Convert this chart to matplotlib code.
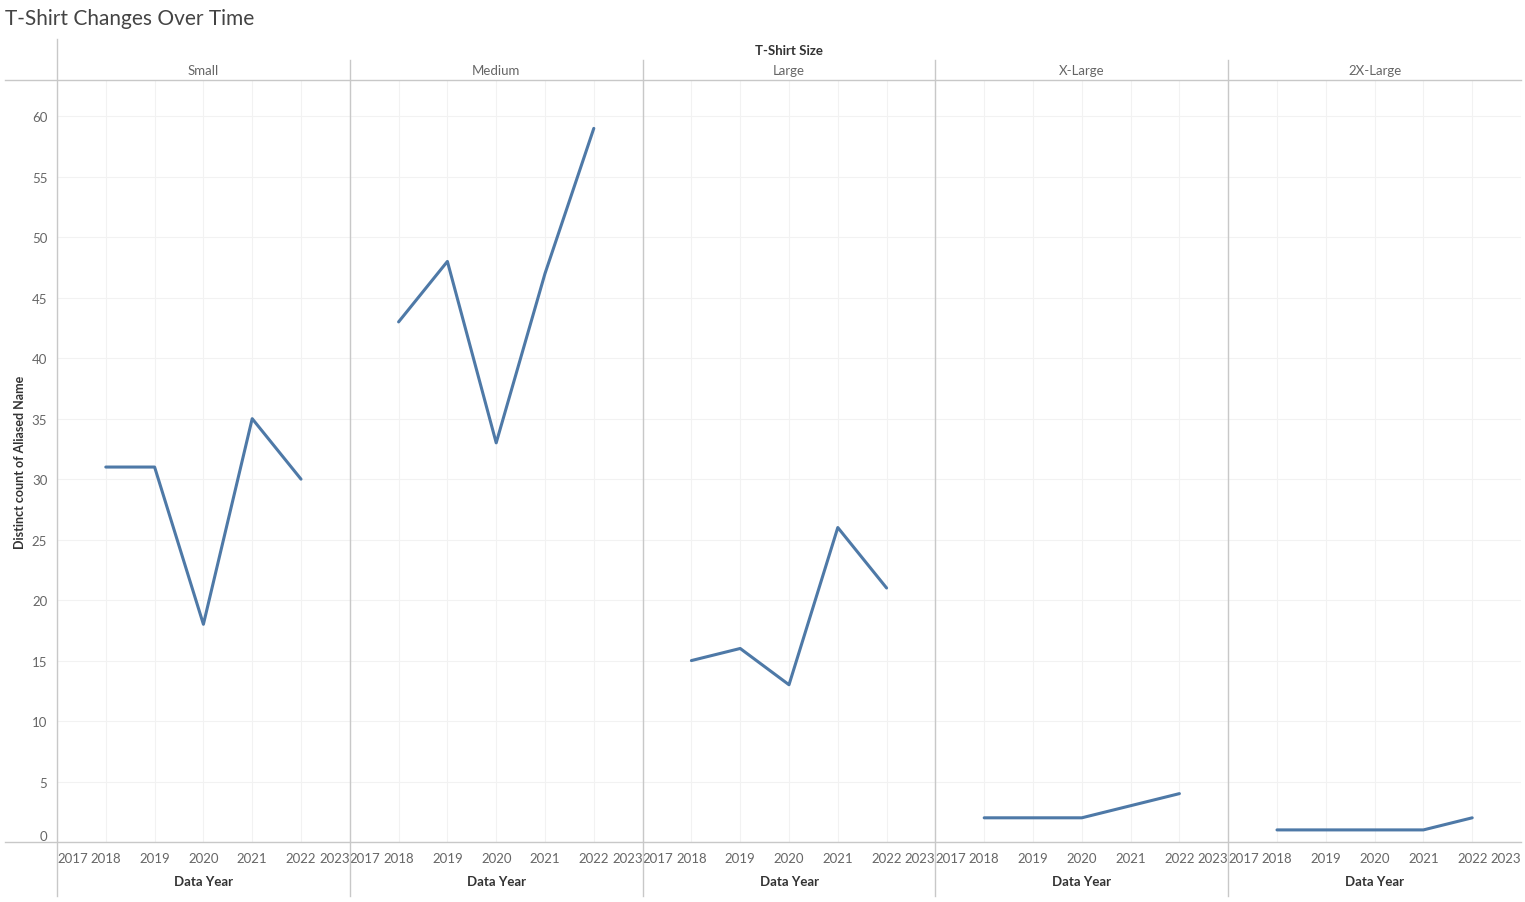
import numpy as np
import matplotlib.pyplot as plt
from matplotlib.lines import Line2D

plt.rcParams['font.family'] = ['Lato', 'DejaVu Sans']

sizes = ['Small', 'Medium', 'Large', 'X-Large', '2X-Large']
years = [2018, 2019, 2020, 2021, 2022]
small = [31, 31, 18, 35, 30]
medium = [43, 48, 33, 47, 59]
large = [15, 16, 13, 26, 21]
xlarge = [2, 2, 2, 3, 4]
xxlarge = [1, 1, 1, 1, 2]
series = [small, medium, large, xlarge, xxlarge]

year_ticks = [2017, 2018, 2019, 2020, 2021, 2022, 2023]
y_ticks = [0, 5, 10, 15, 20, 25, 30, 35, 40, 45, 50, 55, 60]

W, H = 1525, 903
fig = plt.figure(figsize=(W / 100, H / 100), dpi=100)

def fx(px):
    return px / W

def fy(py):
    return 1 - py / H

left, right = 57, 1521
top, bottom = 81, 843
pw = (right - left) / len(sizes)
grid_c = '#f2f2f2'
sep_c = '#c8c8c8'
tick_c = '#666666'

for i, (name, vals) in enumerate(zip(sizes, series)):
    ax = fig.add_axes([fx(left + i * pw), fy(bottom), fx(pw), (bottom - top) / H])
    ax.plot(years, vals, color='#4e79a7', linewidth=2.2, solid_capstyle='round')
    ax.set_xlim(2017, 2023)
    ax.set_ylim(0, 63)
    ax.set_xticks(year_ticks)
    ax.set_yticks(y_ticks)
    ax.grid(True, color=grid_c, linewidth=0.8)
    ax.set_axisbelow(True)
    for s in ax.spines.values():
        s.set_visible(False)
    ax.tick_params(length=0, colors=tick_c, labelsize=9.5)
    ax.set_xticklabels([str(y) for y in year_ticks])
    labs = ax.get_xticklabels()
    labs[0].set_ha('left')
    labs[-1].set_ha('right')
    ax.tick_params(axis='x', pad=7)
    if i == 0:
        ax.tick_params(axis='y', pad=7)
        ylabs = ax.get_yticklabels()
        ylabs[0].set_va('bottom')
    else:
        ax.set_yticklabels([])
    ax.set_xlabel('Data Year', fontsize=9.5, color='#333333', fontweight='bold', labelpad=8)
    fig.text(fx(left + i * pw + pw / 2), fy(71), name, ha='center', va='center',
             fontsize=9.5, color='#666666')

# header and separators
fig.add_artist(Line2D([fx(5), fx(right)], [fy(top), fy(top)], color=sep_c, linewidth=1))
fig.add_artist(Line2D([fx(5), fx(right)], [fy(bottom), fy(bottom)], color=sep_c, linewidth=1))
fig.add_artist(Line2D([fx(left), fx(left)], [fy(40), fy(897)], color=sep_c, linewidth=1))
for i in range(1, len(sizes)):
    x = left + i * pw
    fig.add_artist(Line2D([fx(x), fx(x)], [fy(61), fy(897)], color=sep_c, linewidth=1))

fig.text(fx(left + (right - left) / 2), fy(51), 'T-Shirt Size', ha='center', va='center',
         fontsize=9.5, color='#333333', fontweight='bold')
fig.text(fx(20), fy((top + bottom) / 2), 'Distinct count of Aliased Name', rotation=90,
         ha='center', va='center', fontsize=9, color='#333333', fontweight='bold')
fig.text(fx(5), fy(19), 'T-Shirt Changes Over Time', ha='left', va='center',
         fontsize=15, color='#444444')

fig.savefig('out.png', dpi=100)
